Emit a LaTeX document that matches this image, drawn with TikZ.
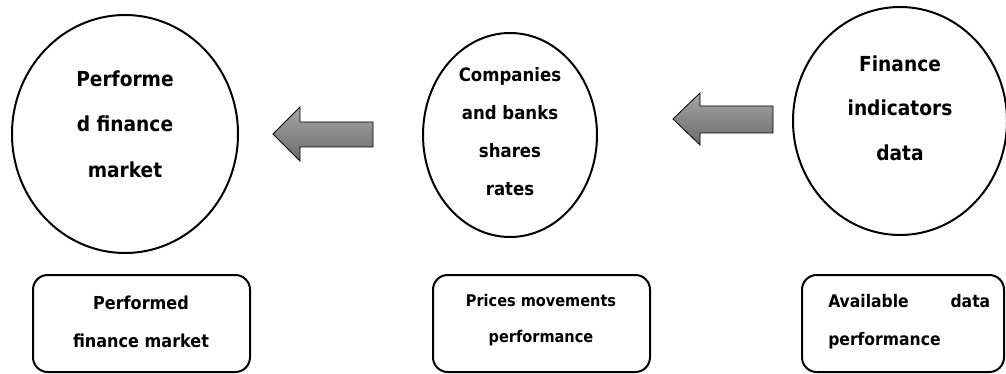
\documentclass[tikz,border=0pt]{standalone}
\usepackage{fontspec}
\setmainfont{DejaVu Sans Condensed}
\usetikzlibrary{shapes.geometric}
\begin{document}
\begin{tikzpicture}[x=0.75pt,y=-0.75pt,
  bubble/.style={draw=black,line width=1.5pt,ellipse,inner sep=0pt},
  bigtext/.style={font=\fontsize{15.5}{34}\selectfont\bfseries,align=center,inner sep=0pt},
  infobox/.style={draw=black,line width=1.5pt,rounded corners=11pt},
  smalltext/.style={font=\fontsize{12.3}{28.5}\selectfont\bfseries,align=center,inner sep=0pt},
  blockarrow/.style={draw=black,line width=0.6pt,top color=black!35,bottom color=black!58}]
\useasboundingbox (0,0) rectangle (1006,374);

% three ellipses with their captions
\node[bubble,minimum width=226*0.75pt,minimum height=238*0.75pt] (c1) at (125,134) {};
\node[bubble,minimum width=174*0.75pt,minimum height=204*0.75pt] (c2) at (510,135) {};
\node[bubble,minimum width=214*0.75pt,minimum height=228*0.75pt] (c3) at (900,121) {};

\node[bigtext] (t1) at (125,124) {Performe\\d finance\\market};
\node[bigtext,font=\fontsize{13.8}{28.5}\selectfont\bfseries] (t2) at (510,132) {Companies\\and banks\\shares\\rates};
\node[bigtext,font=\fontsize{15.5}{33.4}\selectfont\bfseries] (t3) at (900,108) {Finance\\indicators\\data};

% block arrows pointing left
\coordinate (a1) at (273,134);
\coordinate (a2) at (673,119);
\draw[blockarrow] (a1) -- ++(27,-27) -- ++(0,15) -- ++(73,0) -- ++(0,25)
  -- ++(-73,0) -- ++(0,14) -- cycle;
\draw[blockarrow] (a2) -- ++(27,-26) -- ++(0,13) -- ++(73,0) -- ++(0,27)
  -- ++(-73,0) -- ++(0,12) -- cycle;

% description boxes
\draw[infobox] (33,275) rectangle (250,372);
\draw[infobox] (433,275) rectangle (650,372);
\draw[infobox] (802,275) rectangle (1004,372);
\coordinate (b1) at (141,322);
\coordinate (b2) at (541,320);
\coordinate (b3) at (828,322);

\node[smalltext,font=\fontsize{13.4}{28.5}\selectfont\bfseries] (s1) at (b1) {Performed\\finance market};
\node[smalltext,font=\fontsize{12.1}{26.5}\selectfont\bfseries] (s2) at (b2) {Prices movements\\performance};
\node[smalltext,font=\fontsize{13}{28.5}\selectfont\bfseries,align=left,anchor=west] (s3) at (b3)
  {\hbox to 121.5pt{Available\hfill data}\\performance};
\end{tikzpicture}
\end{document}
